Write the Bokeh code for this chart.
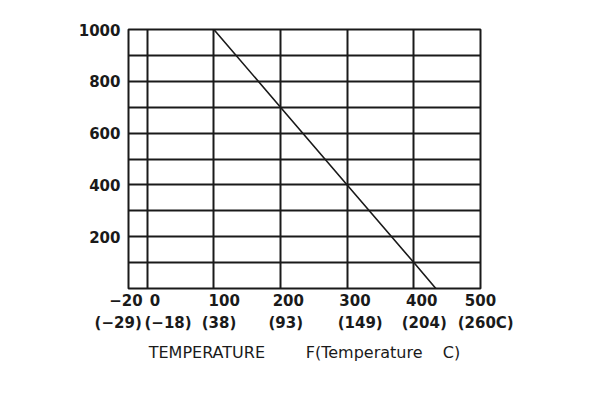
from bokeh.plotting import figure
from bokeh.models import LinearAxis, FixedTicker, Range1d
from bokeh.embed import file_html
from bokeh.resources import INLINE

# Data
temp_f = [100, 200, 300, 400, 433]
pressure = [1000, 700, 400, 100, 0]

x_ticks = [-20, 0, 100, 200, 300, 400, 500]
f_labels = ["\u221220", "0", "100", "200", "300", "400", "500"]
c_labels = ["(\u221229)", "(\u221218)", "(38)", "(93)", "(149)", "(204)", "(260C)"]
y_ticks = [200, 400, 600, 800, 1000]
y_grid = [100, 200, 300, 400, 500, 600, 700, 800, 900]
x_grid = [0, 100, 200, 300, 400]

# ---- layout / style (not data) ----
FONT = "DejaVu Sans"
NBSP = "\u00a0"
NBSP_W = 0.348 * 15  # width of a no-break space at 15px bold
# horizontal pixel shift of each tick label relative to its tick (as in the reference)
f_shift = [-7, 9, 9.5, 8, 8.5, 7.5, 1]
c_shift = [-15, 20, 5, 6, 14, 9.5, 6]


def shifted(text, dx):
    n = int(round(2 * abs(dx) / NBSP_W))
    return text + NBSP * n if dx < 0 else NBSP * n + text


x_title = "TEMPERATURE" + NBSP * 8 + "F(Temperature" + NBSP * 4 + "C)"

p = figure(width=600, height=400, output_backend="svg", toolbar_location=None,
           x_range=Range1d(-28, 500), y_range=Range1d(0, 1000),
           min_border_left=128, min_border_right=120, min_border_top=29, min_border_bottom=112)
p.background_fill_color = "white"
p.border_fill_color = "white"
p.outline_line_color = "#1a1a1a"
p.outline_line_width = 2

p.line(temp_f, pressure, line_color="#1a1a1a", line_width=1.6)

# grid
p.xgrid.ticker = FixedTicker(ticks=x_grid)
p.ygrid.ticker = FixedTicker(ticks=y_grid)
for g in (p.xgrid, p.ygrid):
    g.grid_line_color = "#1a1a1a"
    g.grid_line_width = 2
    g.grid_line_alpha = 1

# y axis
p.yaxis.ticker = FixedTicker(ticks=y_ticks)
p.yaxis.axis_line_color = None
p.yaxis.major_tick_line_color = None
p.yaxis.minor_tick_line_color = None
p.yaxis.major_tick_out = 0
p.yaxis.major_label_standoff = 8
p.yaxis.major_label_text_font = FONT
p.yaxis.major_label_text_font_size = "15px"
p.yaxis.major_label_text_font_style = "bold"
p.yaxis.major_label_text_color = "#1a1a1a"

# first x axis (Fahrenheit)
ax1 = p.xaxis[0]
ax1.ticker = FixedTicker(ticks=x_ticks)
ax1.major_label_overrides = {t: shifted(l, d) for t, l, d in zip(x_ticks, f_labels, f_shift)}

# second x axis (Celsius)
ax2 = LinearAxis(ticker=FixedTicker(ticks=x_ticks),
                 major_label_overrides={t: shifted(l, d) for t, l, d in zip(x_ticks, c_labels, c_shift)})
ax2.axis_label = x_title
p.add_layout(ax2, "below")

for ax in (ax1, ax2):
    ax.axis_line_color = None
    ax.major_tick_line_color = None
    ax.minor_tick_line_color = None
    ax.major_tick_out = 0
    ax.major_label_text_font = FONT
    ax.major_label_text_font_size = "15px"
    ax.major_label_text_font_style = "bold"
    ax.major_label_text_color = "#1a1a1a"
ax1.major_label_standoff = 3
ax2.major_label_standoff = 1
ax2.axis_label_text_font = FONT
ax2.axis_label_text_font_size = "16px"
ax2.axis_label_text_font_style = "normal"
ax2.axis_label_text_color = "#1a1a1a"
ax2.axis_label_standoff = 8

open("out.html", "w").write(file_html(p, INLINE))
